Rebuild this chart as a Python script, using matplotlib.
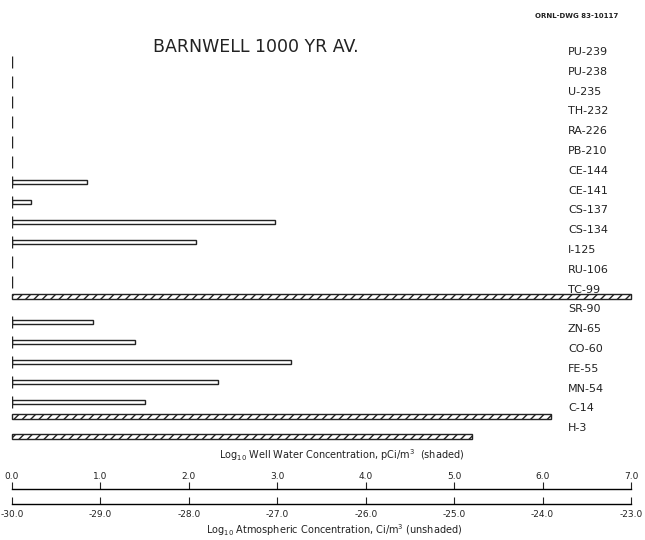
import numpy as np
import matplotlib
matplotlib.use("Agg")
from matplotlib import pyplot as plt

plt.rcParams['font.family'] = ['DejaVu Sans']
plt.rcParams['hatch.linewidth'] = 1.0

# nuclides, top to bottom
nuclides = ['PU-239', 'PU-238', 'U-235', 'TH-232', 'RA-226', 'PB-210',
            'CE-144', 'CE-141', 'CS-137', 'CS-134', 'I-125', 'RU-106',
            'TC-99', 'SR-90', 'ZN-65', 'CO-60', 'FE-55', 'MN-54', 'C-14', 'H-3']

# log10 atmospheric concentration, Ci/m3 (unshaded), None = no bar
atmos = [None, None, None, None, None, None,
         -29.15, -29.78, -27.03, -27.92, None, None,
         None, -29.08, -28.61, -26.84, -27.67, -28.50, None, None]

# log10 well water concentration, pCi/m3 (shaded), None = no bar
well = [None, None, None, None, None, None,
        None, None, None, None, None, None,
        7.0, None, None, None, None, None, 6.09, 5.20]

well_ticks = [0.0, 1.0, 2.0, 3.0, 4.0, 5.0, 6.0, 7.0]
atmos_ticks = [-30.0, -29.0, -28.0, -27.0, -26.0, -25.0, -24.0, -23.0]

W, H = 645, 540
fig = plt.figure(figsize=(6.45, 5.4), dpi=100)

left = 12 / W
width = 619 / W

# main bar area: row 0 at 62px, rows 20px apart
ax = fig.add_axes([left, 1 - 450 / H, width, 410 / H])
ax.set_xlim(well_ticks[0], well_ticks[-1])
ax.set_ylim(19.4, -1.1)
ax.axis('off')
ax2 = ax.twiny()
ax2.set_xlim(atmos_ticks[0], atmos_ticks[-1])
ax2.set_ylim(19.4, -1.1)
ax2.axis('off')

# unshaded (atmospheric) bars
for i, v in enumerate(atmos):
    if well[i] is None:
        ax2.plot([atmos_ticks[0]], [i], marker='|', markersize=8, color='#222', mew=1.0)
    if v is None:
        continue
    ax2.barh(i, v - atmos_ticks[0], left=atmos_ticks[0], height=0.2,
             facecolor='white', edgecolor='#222', linewidth=1.0)

# shaded (well water) bars
for i, v in enumerate(well):
    if v is None:
        continue
    ax.barh(i - 0.27, v, left=0, height=0.27, facecolor='white',
            edgecolor='#222', linewidth=1.0, hatch='////', clip_on=False)

# nuclide names on the right
for i, name in enumerate(nuclides):
    ax.text(568 / W, 1 - (52 + i * 19.8) / H, name, transform=fig.transFigure,
            fontsize=8, va='center', ha='left', color='#222')

fig.text(256 / W, 1 - 47 / H, 'BARNWELL 1000 YR AV.', fontsize=12.5,
         ha='center', va='center', color='#222')
fig.text(577 / W, 1 - 16 / H, 'ORNL-DWG 83-10117', fontsize=5,
         fontweight='bold', ha='center', va='center', color='#222')

# well water scale
axt = fig.add_axes([left, 1 - 489 / H, width, 0])
axt.set_xlim(well_ticks[0], well_ticks[-1])
for s in ['left', 'right', 'bottom']:
    axt.spines[s].set_visible(False)
axt.spines['top'].set_linewidth(1.0)
axt.set_yticks([])
axt.xaxis.set_ticks_position('top')
axt.set_xticks(well_ticks)
axt.set_xticklabels(['%.1f' % t for t in well_ticks], fontsize=6.5)
axt.tick_params(axis='x', direction='out', length=5, pad=1, colors='#222')
fig.text(342 / W, 1 - 455 / H,
         r'Log$_{10}$ Well Water Concentration, pCi/m$^3$  (shaded)',
         fontsize=7, ha='center', va='center', color='#222')

# atmospheric scale
axb = fig.add_axes([left, 1 - 504 / H, width, 0])
axb.set_xlim(atmos_ticks[0], atmos_ticks[-1])
for s in ['left', 'right', 'top']:
    axb.spines[s].set_visible(False)
axb.spines['bottom'].set_linewidth(1.0)
axb.set_yticks([])
axb.set_xticks(atmos_ticks)
axb.set_xticklabels(['%.1f' % t for t in atmos_ticks], fontsize=6.5)
axb.tick_params(axis='x', direction='in', length=5, pad=4, colors='#222')
fig.text(334 / W, 1 - 530 / H,
         r'Log$_{10}$ Atmospheric Concentration, Ci/m$^3$ (unshaded)',
         fontsize=7, ha='center', va='center', color='#222')

fig.savefig('out.png', dpi=100)
